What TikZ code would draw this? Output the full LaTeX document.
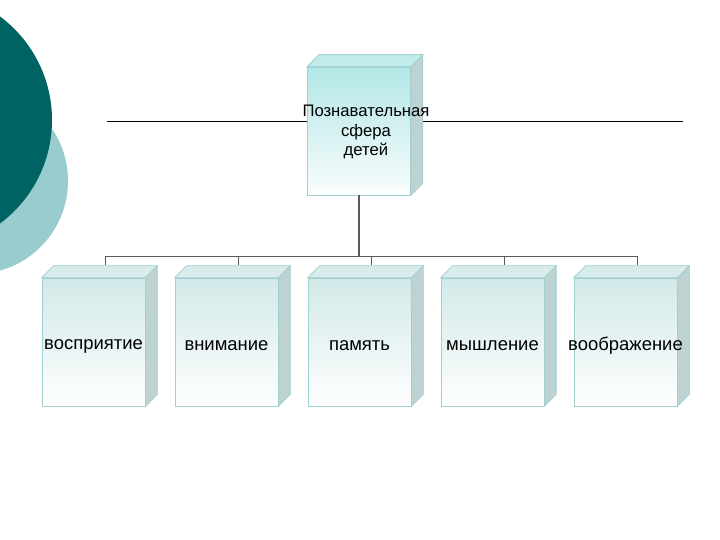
\documentclass[tikz,border=0pt]{standalone}
\usepackage{fontspec}
\setmainfont{Liberation Sans}
\usepackage{tikz}
\usetikzlibrary{backgrounds}

\definecolor{darkteal}{HTML}{006363}
\definecolor{paleteal}{HTML}{99CCCC}
\definecolor{boxline}{HTML}{9FCFCF}
\definecolor{headtop}{HTML}{B2E6E6}
\definecolor{kidtop}{HTML}{D2E9E9}
\definecolor{sideface}{HTML}{BFD2D2}
\definecolor{topface}{HTML}{D8ECEC}
\definecolor{linkgray}{HTML}{5A5A5A}

\begin{document}
\begin{tikzpicture}[x=0.02cm,y=-0.02cm,
    box/.style={draw=boxline, line width=0.4pt, minimum width=2.06cm,
      minimum height=2.56cm, inner sep=0pt, top color=kidtop,
      bottom color=white},
    headbox/.style={box, top color=headtop, bottom color=white!94!headtop},
    kidtext/.style={font=\fontsize{10.5}{12}\selectfont, yshift=-0.08cm},
    headtext/.style={font=\fontsize{9.5}{11}\selectfont, align=center,
      xshift=0.14cm, yshift=-0.02cm},
    link/.style={draw=linkgray, line width=0.8pt}]
    \clip (0,0) rectangle (720,540);

    \node[headbox, label={[headtext]center:Познавательная\\сфера\\детей}] (head) at (359,131) {};
    \node[box, label={[kidtext]center:восприятие}] (a) at (93.5,342) {};
    \node[box, label={[kidtext]center:внимание}] (b) at (226.5,342) {};
    \node[box, label={[kidtext]center:память}] (c) at (359.5,342) {};
    \node[box, label={[kidtext]center:мышление}] (d) at (492.5,342) {};
    \node[box, label={[kidtext]center:воображение}] (e) at (625.5,342) {};

    \begin{scope}[on background layer]
      \fill[white] (0,0) rectangle (720,540);
      % circles on the left
      \fill[paleteal] (-25,181) circle (93);
      \fill[darkteal] (-77,120) circle (129);
      % rule through the title
      \coordinate (ruleL) at (107,121);
      \coordinate (ruleR) at (683,121);
      \draw[line width=0.5pt] (ruleL) -- (ruleR);
      \foreach \n in {head,a,b,c,d,e}{
        \filldraw[draw=boxline, fill=topface, line width=0.4pt] (\n.north west) -- ++(12,-12)
          -- ([shift={(12,-12)}]\n.north east) -- (\n.north east) -- cycle;
        \filldraw[draw=boxline, fill=sideface, line width=0.4pt] (\n.north east)
          -- ++(12,-12) -- ([shift={(12,-12)}]\n.south east) -- (\n.south east) -- cycle;
      }
      \filldraw[draw=boxline, fill=headtop!80!white, line width=0.4pt] (head.north west)
        -- ++(12,-12) -- ([shift={(12,-12)}]head.north east) -- (head.north east) -- cycle;
    \end{scope}

    \draw[link] (head.south) -- ++(0,61) coordinate (hub);
    \foreach \n in {a,b,c,d,e}
      \draw[link] (hub) -| ([shift={(12,-13)}]\n.north);
\end{tikzpicture}
\end{document}
